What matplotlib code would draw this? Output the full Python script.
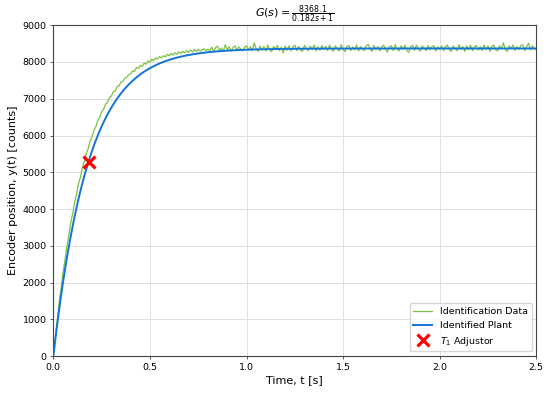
import numpy as np
import matplotlib.pyplot as plt

# plant parameters (from title)
K = 8368.1
T1 = 0.182

# identification data, sampled every 0.01 s from 0 to 2.5 s
dt = 0.01
y_data = [
    0, 510, 960, 1450, 1830, 2270, 2600, 2990, 3280, 3630, 3870, 4190, 4400, 4690, 4860, 5130, 5280, 5510, 5640, 5850, 5960,
    6140, 6240, 6410, 6490, 6650, 6710, 6850, 6900, 7030, 7070, 7190, 7210, 7330, 7350, 7450, 7470, 7560, 7580, 7660, 7670,
    7760, 7740, 7850, 7830, 7910, 7880, 7970, 7940, 8030, 7990, 8070, 8040, 8110, 8080, 8150, 8110, 8170, 8140, 8210, 8170,
    8230, 8190, 8250, 8210, 8280, 8230, 8290, 8250, 8310, 8260, 8330, 8270, 8340, 8290, 8350, 8300, 8330, 8360, 8310, 8350,
    8310, 8400, 8300, 8390, 8430, 8320, 8380, 8290, 8470, 8340, 8410, 8300, 8390, 8440, 8320, 8410, 8350, 8300, 8400, 8440,
    8330, 8410, 8310, 8520, 8350, 8290, 8430, 8330, 8420, 8300, 8460, 8340, 8280, 8420, 8360, 8450, 8310, 8400, 8250, 8430,
    8320, 8440, 8300, 8400, 8460, 8310, 8420, 8330, 8290, 8450, 8360, 8310, 8430, 8340, 8460, 8300, 8410, 8320, 8450, 8340,
    8420, 8310, 8460, 8340, 8290, 8440, 8360, 8300, 8470, 8340, 8280, 8420, 8450, 8310, 8410, 8330, 8460, 8300, 8420, 8340,
    8310, 8440, 8480, 8350, 8290, 8450, 8330, 8420, 8300, 8410, 8460, 8340, 8270, 8420, 8440, 8310, 8470, 8350, 8300, 8440,
    8340, 8460, 8310, 8260, 8420, 8450, 8320, 8460, 8340, 8300, 8440, 8370, 8310, 8450, 8340, 8420, 8440, 8300, 8410, 8340,
    8440, 8310, 8420, 8460, 8330, 8290, 8440, 8360, 8310, 8470, 8340, 8420, 8290, 8440, 8330, 8460, 8310, 8410, 8450, 8320,
    8410, 8310, 8460, 8340, 8440, 8290, 8420, 8460, 8330, 8300, 8440, 8360, 8520, 8340, 8290, 8440, 8370, 8460, 8310, 8420,
    8340, 8440, 8470, 8310, 8410, 8510, 8330, 8440, 8360, 8340,
]
t_data = np.arange(len(y_data)) * dt

# step response of the identified plant
t_model = np.linspace(0, 2.5, 500)
y_model = K * (1 - np.exp(-t_model / T1))

fig = plt.figure(figsize=(5.5, 3.94), dpi=100)
ax = fig.add_axes([0.097, 0.096, 0.878, 0.84])

ax.plot(t_data, y_data, color='#7cc142', lw=0.9, label='Identification Data', zorder=2)
ax.plot(t_model, y_model, color='#1274d8', lw=1.4, label='Identified Plant', zorder=3)
ax.plot([T1], [K * (1 - np.exp(-1))], 'x', color='red', ms=9, mew=2.3,
        linestyle='none', label=r'$T_1$ Adjustor', zorder=4)

ax.set_xlim(0, 2.5)
ax.set_ylim(0, 9000)
ax.set_xticks(np.arange(0, 2.51, 0.5))
ax.set_yticks(np.arange(0, 9001, 1000))
ax.tick_params(labelsize=6.8, length=2.5, width=0.6, pad=2.3, color='#444444')
for sp in ax.spines.values():
    sp.set_linewidth(0.8)
    sp.set_color('#444444')
ax.grid(True, color='#e0e0e0', lw=0.7)
ax.set_axisbelow(True)

ax.set_xlabel('Time, t [s]', fontsize=8, labelpad=2.5)
ax.set_ylabel('Encoder position, y(t) [counts]', fontsize=8, labelpad=3)
ax.set_title(r'$G(s) = \frac{8368.1}{0.182s + 1}$', fontsize=8, pad=4)
ax.legend(loc='lower right', fontsize=6.8)

fig.savefig('out.png', dpi=100)
